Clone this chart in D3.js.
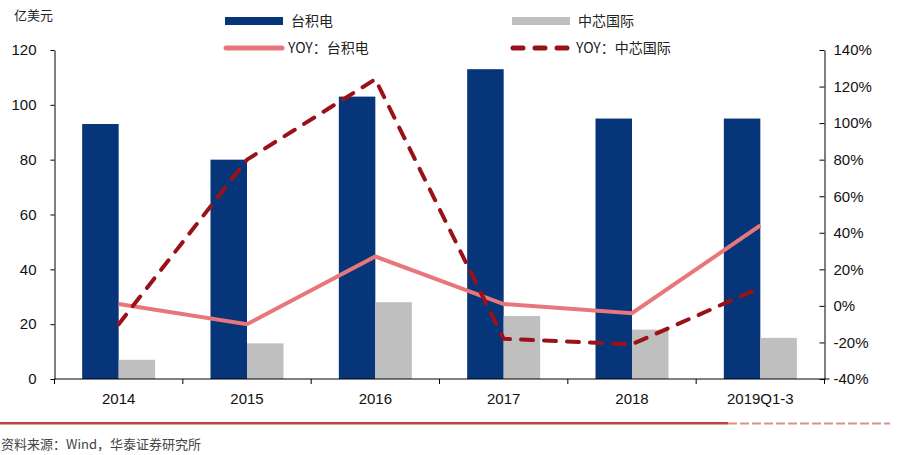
<!DOCTYPE html>
<html>
<head>
<meta charset="utf-8">
<script src="https://cdn.jsdelivr.net/npm/d3@7"></script>
<style>
  body { margin: 0; background: #fff; }
  svg { display: block; }
</style>
</head>
<body>
<svg id="chart" width="898" height="455"></svg>
<script>
var years = ["2014", "2015", "2016", "2017", "2018", "2019Q1-3"];
var tsmcRev = [93, 80, 103, 113, 95, 95];
var smicRev = [7, 13, 28, 23, 18, 15];
var tsmcYoy = [1, -10, 27, 1, -4, 44];
var smicYoy = [-10, 80, 124, -18, -21, 10];
var leftTicks = [0, 20, 40, 60, 80, 100, 120];
var rightTicks = [-40, -20, 0, 20, 40, 60, 80, 100, 120, 140];

var svg = d3.select("#chart");
var numFont = "'Liberation Sans', Arial, sans-serif";
var cnFont = "'Noto Sans CJK SC', sans-serif";

var plotL = 54.5, plotR = 824.5, plotT = 50, plotB = 379;

var x = d3.scaleBand().domain(years).range([plotL, plotR]);
var y = d3.scaleLinear().domain([0, 120]).range([plotB, plotT]);
var y2 = d3.scaleLinear().domain([-40, 140]).range([plotB, plotT]);

var barW = 36.5;

// bars
svg.append("g").selectAll("rect")
	.data(tsmcRev)
	.join("rect")
	.attr("x", (d, i) => x(years[i]) + x.bandwidth() / 2 - barW)
	.attr("y", d => y(d))
	.attr("width", barW)
	.attr("height", d => plotB - y(d))
	.attr("fill", "#06357a");

svg.append("g").selectAll("rect")
	.data(smicRev)
	.join("rect")
	.attr("x", (d, i) => x(years[i]) + x.bandwidth() / 2)
	.attr("y", d => y(d))
	.attr("width", barW)
	.attr("height", d => plotB - y(d))
	.attr("fill", "#bfbfbf");

// lines
var line = d3.line()
	.x((d, i) => x(years[i]) + x.bandwidth() / 2)
	.y(d => y2(d));

svg.append("path")
	.datum(tsmcYoy)
	.attr("d", line)
	.attr("fill", "none")
	.attr("stroke", "#e8777b")
	.attr("stroke-width", 4);

svg.append("path")
	.datum(smicYoy)
	.attr("d", line)
	.attr("fill", "none")
	.attr("stroke", "#9b1118")
	.attr("stroke-width", 4)
	.attr("stroke-linecap", "round")
	.attr("stroke-dasharray", "12,11");

// axes
var axisStyle = g => {
	g.selectAll("path, line").attr("stroke", "#000");
	g.selectAll("text").attr("font-family", numFont).attr("font-size", 15).attr("fill", "#111");
};

svg.append("g")
	.attr("transform", `translate(${plotL},0)`)
	.call(d3.axisLeft(y).tickValues(leftTicks).tickSize(4).tickSizeOuter(0).tickPadding(14))
	.call(axisStyle);

svg.append("g")
	.attr("transform", `translate(${plotR},0)`)
	.call(d3.axisRight(y2).tickValues(rightTicks).tickSize(0).tickSizeOuter(0).tickPadding(9)
		.tickFormat(d => d + "%"))
	.call(axisStyle)
	.call(g => g.selectAll(".tick").append("line").attr("x2", -5).attr("stroke", "#000"));

var xg = svg.append("g")
	.attr("transform", `translate(0,${plotB})`);
xg.append("line").attr("x1", plotL).attr("x2", plotR + 5).attr("stroke", "#000");
xg.selectAll("line.t")
	.data(years.concat(["end"]))
	.join("line")
	.attr("class", "t")
	.attr("x1", (d, i) => plotL + i * x.bandwidth())
	.attr("x2", (d, i) => plotL + i * x.bandwidth())
	.attr("y2", 5)
	.attr("stroke", "#000");
xg.selectAll("text")
	.data(years)
	.join("text")
	.attr("x", d => x(d) + x.bandwidth() / 2)
	.attr("y", 25)
	.attr("text-anchor", "middle")
	.attr("font-family", numFont)
	.attr("font-size", 15)
	.attr("fill", "#111")
	.text(d => d);

// unit label
svg.append("text")
	.attr("x", 14).attr("y", 20)
	.attr("font-family", cnFont).attr("font-size", 13).attr("fill", "#222")
	.text("亿美元");

// legend
var lg = svg.append("g");
lg.append("rect").attr("x", 225).attr("y", 17).attr("width", 58).attr("height", 8).attr("fill", "#06357a");
lg.append("text").attr("x", 291).attr("y", 26).attr("font-family", cnFont).attr("font-size", 14).attr("fill", "#222").text("台积电");
lg.append("rect").attr("x", 512).attr("y", 17).attr("width", 58).attr("height", 8).attr("fill", "#bfbfbf");
lg.append("text").attr("x", 578).attr("y", 26).attr("font-family", cnFont).attr("font-size", 14).attr("fill", "#222").text("中芯国际");

lg.append("line").attr("x1", 226).attr("x2", 282).attr("y1", 48).attr("y2", 48)
	.attr("stroke", "#e8777b").attr("stroke-width", 5).attr("stroke-linecap", "round");
lg.append("text").attr("x", 288).attr("y", 53).attr("font-family", cnFont).attr("font-size", 14).attr("fill", "#222").text("YOY：台积电");
lg.append("line").attr("x1", 513).attr("x2", 571).attr("y1", 48).attr("y2", 48)
	.attr("stroke", "#9b1118").attr("stroke-width", 5).attr("stroke-linecap", "round")
	.attr("stroke-dasharray", "10,12");
lg.append("text").attr("x", 576).attr("y", 53).attr("font-family", cnFont).attr("font-size", 14).attr("fill", "#222").text("YOY：中芯国际");

// footer
svg.append("rect").attr("x", 0).attr("y", 422).attr("width", 728).attr("height", 2.5).attr("fill", "#b8473c");
svg.append("line").attr("x1", 728).attr("x2", 890).attr("y1", 423.5).attr("y2", 423.5)
	.attr("stroke", "#c9655c").attr("stroke-width", 2).attr("stroke-dasharray", "9,3").attr("opacity", 0.7);
svg.append("text")
	.attr("x", 1).attr("y", 449)
	.attr("font-family", cnFont).attr("font-size", 13).attr("fill", "#444")
	.text("资料来源：Wind，华泰证券研究所");
</script>
</body>
</html>
